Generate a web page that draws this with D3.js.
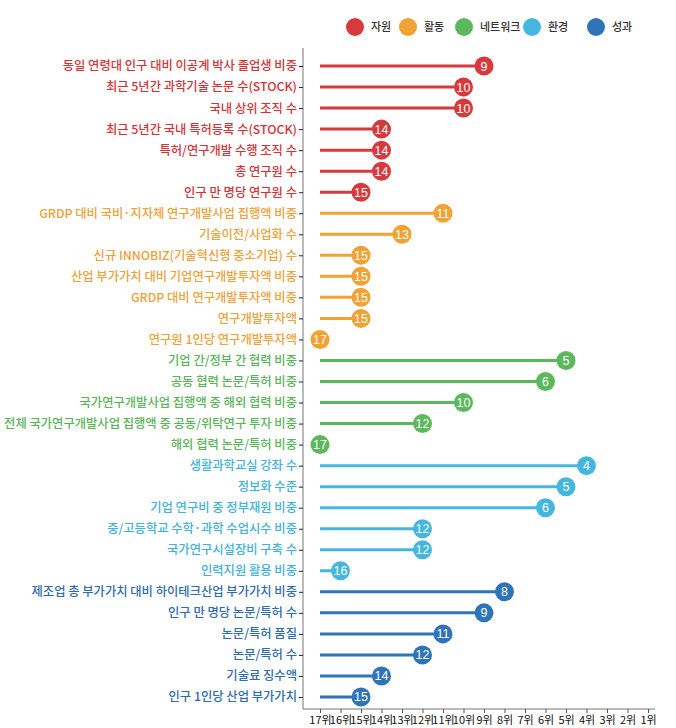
<!DOCTYPE html>
<html><head><meta charset="utf-8">
<script src="https://cdn.jsdelivr.net/npm/d3@7"></script>
<style>
body{margin:0;background:#fff;}
svg{display:block;font-family:"Noto Sans CJK KR","Noto Sans",sans-serif;}
</style></head>
<body><svg id="c" width="676" height="728"></svg>
<script>
const groups = ["자원","활동","네트워크","환경","성과"];
const groupColors = ["#d63a3c","#f0a233","#5cb85c","#45b7de","#2f74b8"];
const labelColors = ["#d33338","#eda136","#57b557","#40b2da","#2e6cae"];

const indicators = [
 "동일 연령대 인구 대비 이공계 박사 졸업생 비중","최근 5년간 과학기술 논문 수(STOCK)","국내 상위 조직 수","최근 5년간 국내 특허등록 수(STOCK)","특허/연구개발 수행 조직 수","총 연구원 수","인구 만 명당 연구원 수",
 "GRDP 대비 국비·지자체 연구개발사업 집행액 비중","기술이전/사업화 수","신규 INNOBIZ(기술혁신형 중소기업) 수","산업 부가가치 대비 기업연구개발투자액 비중","GRDP 대비 연구개발투자액 비중","연구개발투자액","연구원 1인당 연구개발투자액",
 "기업 간/정부 간 협력 비중","공동 협력 논문/특허 비중","국가연구개발사업 집행액 중 해외 협력 비중","전체 국가연구개발사업 집행액 중 공동/위탁연구 투자 비중","해외 협력 논문/특허 비중",
 "생활과학교실 강좌 수","정보화 수준","기업 연구비 중 정부재원 비중","중/고등학교 수학·과학 수업시수 비중","국가연구시설장비 구축 수","인력지원 활용 비중",
 "제조업 총 부가가치 대비 하이테크산업 부가가치 비중","인구 만 명당 논문/특허 수","논문/특허 품질","논문/특허 수","기술료 징수액","인구 1인당 산업 부가가치"
];
const indicatorGroup = [0,0,0,0,0,0,0, 1,1,1,1,1,1,1, 2,2,2,2,2, 3,3,3,3,3,3, 4,4,4,4,4,4];
const ranks = [9,10,10,14,14,14,15, 11,13,15,15,15,15,17, 5,6,10,12,17, 4,5,6,12,12,16, 8,9,11,12,14,15];
const rankTicks = [17,16,15,14,13,12,11,10,9,8,7,6,5,4,3,2,1];

const svg = d3.select("#c");
const axisX = 303, axisBottom = 709;
const x = d3.scaleLinear().domain([17,1]).range([320,648]);
const y = d3.scalePoint().domain(indicators).range([55.5,707.5]).padding(0.5);

// legend
const legX = [355,408,464,532,596];
const leg = svg.append("g");
groups.forEach((g,i)=>{
  leg.append("circle").attr("cx",legX[i]).attr("cy",27).attr("r",9).attr("fill",groupColors[i]);
  leg.append("text").attr("x",legX[i]+16).attr("y",31).attr("font-size",11).attr("font-weight",500)
    .attr("fill","#333").text(g);
});

// axes
svg.append("line").attr("x1",axisX).attr("x2",axisX).attr("y1",48).attr("y2",axisBottom)
  .attr("stroke","#777").attr("stroke-width",1);
svg.append("line").attr("x1",axisX).attr("x2",655).attr("y1",axisBottom).attr("y2",axisBottom)
  .attr("stroke","#777").attr("stroke-width",1);

const yAxis = d3.axisLeft(y).tickSize(4).tickFormat("");
const ya = svg.append("g").attr("transform",`translate(${axisX},0)`).call(yAxis);
ya.select(".domain").remove();
ya.selectAll(".tick line").attr("stroke","#222");

const xAxis = d3.axisBottom(x).tickValues(rankTicks).tickSize(4).tickFormat(d=>d+"위");
const xa = svg.append("g").attr("transform",`translate(0,${axisBottom})`).call(xAxis);
xa.select(".domain").remove();
xa.selectAll(".tick line").attr("stroke","#555");
xa.selectAll(".tick text").attr("font-size",11).attr("fill","#111").attr("dy","0.75em")
  .attr("font-family","'Noto Sans CJK KR',sans-serif");

// labels
svg.append("g").selectAll("text").data(indicators).join("text")
  .attr("x",297).attr("y",d=>y(d)).attr("dy","0.36em").attr("text-anchor","end")
  .attr("font-size",12.3).attr("font-weight",500)
  .attr("fill",(d,i)=>labelColors[indicatorGroup[i]]).text(d=>d);

// lollipops
const rows = indicators.map((d,i)=>({name:d,rank:ranks[i],g:indicatorGroup[i]}));
svg.append("g").selectAll("line").data(rows.filter(r=>r.rank<17)).join("line")
  .attr("x1",x(17)).attr("x2",d=>x(d.rank)).attr("y1",d=>y(d.name)).attr("y2",d=>y(d.name))
  .attr("stroke",d=>groupColors[d.g]).attr("stroke-width",3);
const dots = svg.append("g").selectAll("g").data(rows).join("g")
  .attr("transform",d=>`translate(${x(d.rank)},${y(d.name)})`);
dots.append("circle").attr("r",9.5).attr("fill",d=>groupColors[d.g]);
dots.append("text").attr("text-anchor","middle").attr("dy","0.36em").attr("font-size",12.5)
  .attr("fill","#fff").attr("font-family","'Liberation Sans',Arial,sans-serif").text(d=>d.rank);
</script></body></html>
